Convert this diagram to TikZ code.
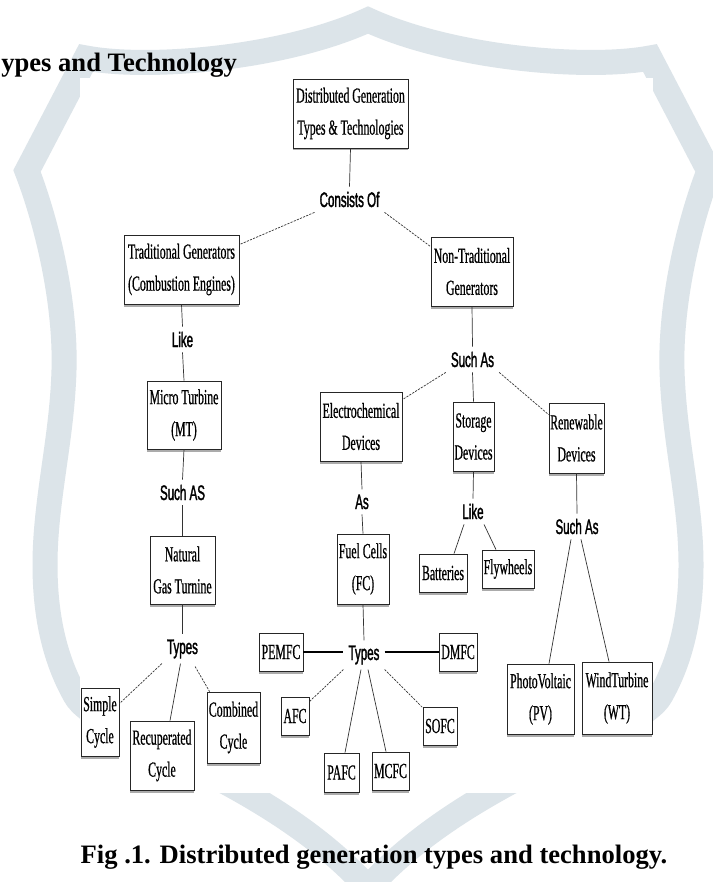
\documentclass[tikz,border=0pt]{standalone}
\usepackage{fontspec}
\setmainfont{Liberation Serif}
\newfontfamily\boxfont[FakeStretch=0.55,FakeBold=0.6]{Liberation Serif}
\newfontfamily\labfont[FakeStretch=0.55,FakeBold=1.5]{Liberation Sans}
\usetikzlibrary{calc,shadows}
\definecolor{crest}{RGB}{220,228,233}

\begin{document}
\begin{tikzpicture}[x=1pt,y=-1pt,
  box/.style={draw=black!85, line width=0.8pt, fill=white, inner sep=0pt, align=center,
    font={\boxfont\fontsize{21.5}{32}\selectfont},
    drop shadow={shadow xshift=0pt, shadow yshift=-2.5pt, fill=black!65}},
  sz/.style 2 args={minimum width=#1pt, minimum height=#2pt},
  lab/.style={font={\labfont\fontsize{21}{21}\selectfont}, inner sep=5pt, anchor=base},
  link/.style={draw=black!80, line width=0.7pt},
  slink/.style={link, dash pattern=on 2.2pt off 1.2pt},
  hlink/.style={draw=black, line width=1.2pt},
  title/.style={font={\bfseries\fontsize{26.6}{26.6}\selectfont}, inner sep=0pt}]

% page
\fill[white] (0,0) rectangle (712,882);
\useasboundingbox (0,0) rectangle (712,882);

% crest outline in the background
\draw[crest, line width=25pt, line join=miter]
  (86,58) .. controls (150,70) and (285,58) .. (368,20)
  .. controls (451,58) and (586,70) .. (650,58)
  -- (709,171)
  .. controls (690,220) and (670,300) .. (672,370)
  .. controls (674,440) and (691,500) .. (691,565)
  .. controls (691,630) and (675,670) .. (661,695)
  .. controls (640,735) and (470,775) .. (368,888)
  .. controls (266,775) and (96,735) .. (75,695)
  .. controls (61,670) and (45,630) .. (45,565)
  .. controls (45,500) and (62,440) .. (64,370)
  .. controls (66,300) and (46,220) .. (27,171)
  -- cycle;

% white panel of the chart
\fill[white] (80,78) rectangle (653,793);

% heading and caption
\node[title, anchor=base east] (head) at (237,72) {ypes and Technology};
\node[title, anchor=base] (cap) at (374,863) {Fig .1. Distributed generation types and technology.};

% boxes
\node[box, sz={115}{69}] (dg) at (350.5,113.5) {Distributed Generation\\Types \& Technologies};
\node[box, sz={115}{69}] (trad) at (181.5,269.5) {Traditional Generators\\(Combustion Engines)};
\node[box, sz={82}{69}] (nontrad) at (472,271.5) {Non-Traditional\\Generators};
\node[box, sz={74}{68}] (mt) at (184,415) {Micro Turbine\\(MT)};
\node[box, sz={65}{68}] (ngt) at (182.5,570) {Natural\\Gas Turnine};
\node[box, sz={38}{68}] (simple) at (100,722) {Simple\\Cycle};
\node[box, sz={64}{69}] (recup) at (162,755.5) {Recuperated\\Cycle};
\node[box, sz={53}{71}] (comb) at (233.5,727.5) {Combined\\Cycle};
\node[box, sz={82}{69}] (electro) at (361,426.5) {Electrochemical\\Devices};
\node[box, sz={41}{69}] (storage) at (473.5,436.5) {Storage\\Devices};
\node[box, sz={55}{70}] (renew) at (576.5,438) {Renewable\\Devices};
\node[box, sz={52}{70}] (fc) at (363,569) {Fuel Cells\\(FC)};
\node[box, sz={48}{38}] (batt) at (443,573) {Batteries};
\node[box, sz={52}{38}] (fly) at (508,569) {Flywheels};
\node[box, sz={44}{38}] (pemfc) at (281,652) {PEMFC};
\node[box, sz={38}{38}] (dmfc) at (458,652) {DMFC};
\node[box, sz={28}{38}] (afc) at (295,716) {AFC};
\node[box, sz={35}{39}] (pafc) at (341.5,772.5) {PAFC};
\node[box, sz={37}{38}] (mcfc) at (390.5,771) {MCFC};
\node[box, sz={34}{38}] (sofc) at (440,726) {SOFC};
\node[box, sz={67}{70}] (pv) at (540.5,699) {PhotoVoltaic\\(PV)};
\node[box, sz={70}{72}] (wt) at (617,698) {WindTurbine\\(WT)};

% link words
\node[lab] (consists) at (349.5,207) {Consists Of};
\node[lab] (like1) at (182.5,347) {Like};
\node[lab] (suchas1) at (472.5,367) {Such As};
\node[lab] (suchAS) at (182.5,500) {Such AS};
\node[lab] (as) at (362,509) {As};
\node[lab] (like2) at (473,519) {Like};
\node[lab] (suchas2) at (577,534) {Such As};
\node[lab] (types1) at (182.5,654) {Types};
\node[lab] (types2) at (364,660) {Types};

% connectors
\draw[link] (dg.south) -- (consists.north);
\draw[slink] (consists.south west) -- ($(trad.north east)+(0,10)$);
\draw[slink] (consists.south east) -- ($(nontrad.north west)+(0,10)$);
\draw[link] (nontrad.south) -- (suchas1.north);
\draw[slink] (suchas1.south west) -- ($(electro.north east)+(0,8)$);
\draw[link] (suchas1.south) -- (storage.north);
\draw[slink] (suchas1.south east) -- ($(renew.north west)+(0,12)$);

\draw[link] (trad.south) -- (like1.north);
\draw[link] (like1.south) -- (mt.north);
\draw[link] (mt.south) -- (suchAS.north);
\draw[link] (suchAS.south) -- (ngt.north);
\draw[link] (ngt.south) -- (types1.north);
\draw[slink] (types1.south west) -- ($(simple.north east)+(0,16)$);
\draw[link] ($(types1.south)+(-2,0)$) -- ($(recup.north)+(8,0)$);
\draw[slink] ($(types1.south east)+(-8,3)$) -- ($(comb.north west)+(3,0)$);

\draw[link] (electro.south) -- (as.north);
\draw[link] (as.south) -- (fc.north);
\draw[link] (fc.south) -- (types2.north);
\draw[hlink] (pemfc.east) -- (pemfc.east -| types2.west);
\draw[hlink] (dmfc.west -| types2.east) -- (dmfc.west);
\draw[slink] (types2.south west) -- ($(afc.north east)+(0,5)$);
\draw[link] ($(types2.south)+(-3,0)$) -- ($(pafc.north)+(3.5,0)$);
\draw[link] ($(types2.south)+(4,0)$) -- ($(mcfc.north)+(-4.5,0)$);
\draw[slink] (types2.south east) -- ($(sofc.north west)+(0,1)$);

\draw[link] (storage.south) -- (like2.north);
\draw[link] ($(like2.south)+(-9,0)$) -- ($(batt.north)+(11,0)$);
\draw[link] ($(like2.south)+(11,0)$) -- ($(fly.north)+(-12,0)$);

\draw[link] (renew.south) -- (suchas2.north);
\draw[link] ($(suchas2.south)+(-6,0)$) -- ($(pv.north)+(8.5,0)$);
\draw[link] ($(suchas2.south)+(4,0)$) -- ($(wt.north)+(-8,0)$);
\end{tikzpicture}
\end{document}
